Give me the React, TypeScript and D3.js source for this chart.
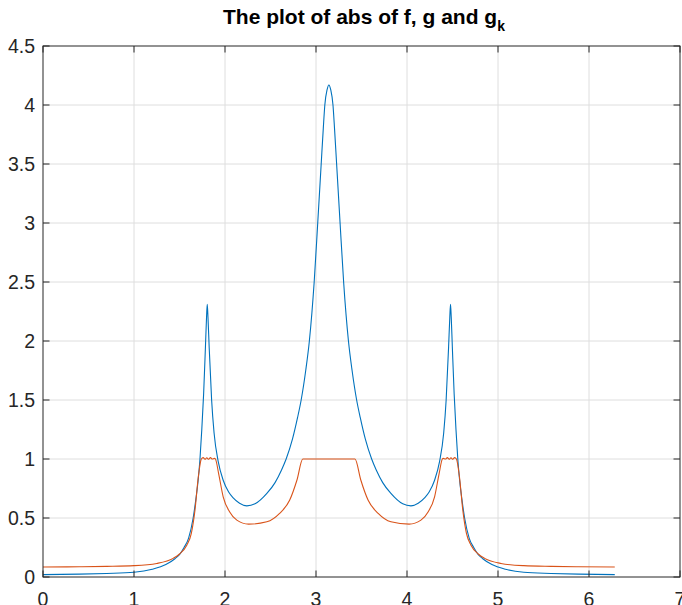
import React, { useEffect, useRef } from 'react';
import * as d3 from 'd3';

// |f| (blue)
const fX = [0, 0.4, 0.7, 1.0, 1.2, 1.35, 1.45, 1.5, 1.55, 1.6, 1.65, 1.68, 1.705, 1.725, 1.745, 1.765, 1.785, 1.797, 1.805, 1.813, 1.826, 1.853, 1.88, 1.925, 1.98, 2.04, 2.09, 2.16, 2.24, 2.33, 2.46, 2.55, 2.62, 2.672, 2.742, 2.797, 2.837, 2.887, 2.927, 2.98, 3.019, 3.057, 3.08, 3.097, 3.122, 3.1416,
  3.1616, 3.1866, 3.2036, 3.2266, 3.2646, 3.3036, 3.3566, 3.3966, 3.4466, 3.4866, 3.5416, 3.6116, 3.6632, 3.7332, 3.8232, 3.9532, 4.0432, 4.1232, 4.1932, 4.2432, 4.3032, 4.3582, 4.4032, 4.4302, 4.4572, 4.4702, 4.4782, 4.4862, 4.4982, 4.5182, 4.5382, 4.5582, 4.5782, 4.6032, 4.6332, 4.6832, 4.7332, 4.7832, 4.8332, 4.9332, 5.0832, 5.2832, 5.5832, 5.8832, 6.2832];
const fY = [0.02, 0.024, 0.03, 0.04, 0.065, 0.105, 0.155, 0.19, 0.25, 0.33, 0.5, 0.66, 0.82, 1.0, 1.25, 1.55, 1.95, 2.2, 2.31, 2.2, 1.95, 1.5, 1.22, 0.98, 0.82, 0.72, 0.67, 0.625, 0.603, 0.62, 0.708, 0.8, 0.905, 1.0, 1.17, 1.35, 1.5, 1.75, 2.0, 2.5, 3.0, 3.5, 3.8, 4.0, 4.13, 4.17,
  4.13, 4.0, 3.8, 3.5, 3.0, 2.5, 2.0, 1.75, 1.5, 1.35, 1.17, 1.0, 0.905, 0.8, 0.708, 0.62, 0.603, 0.625, 0.67, 0.72, 0.82, 0.98, 1.22, 1.5, 1.95, 2.2, 2.31, 2.2, 1.95, 1.55, 1.25, 1.0, 0.82, 0.66, 0.5, 0.33, 0.25, 0.19, 0.155, 0.105, 0.065, 0.04, 0.03, 0.024, 0.02];

// |g_k| (orange)
const gX = [0, 0.4, 0.7, 1.0, 1.25, 1.43, 1.5, 1.58, 1.63, 1.67, 1.707, 1.74, 1.76, 1.78, 1.8, 1.82, 1.84, 1.86, 1.885, 1.895, 1.93, 1.98, 2.05, 2.13, 2.26, 2.46, 2.6, 2.71, 2.79, 2.855,
  3.4282, 3.4932, 3.5732, 3.6832, 3.8232, 4.0232, 4.1532, 4.2332, 4.3032, 4.3532, 4.3882, 4.3982, 4.4232, 4.4432, 4.4632, 4.4832, 4.5032, 4.5232, 4.5432, 4.5762, 4.6132, 4.6532, 4.7032, 4.7832, 4.8532, 5.0332, 5.2832, 5.5832, 5.8832, 6.2832];
const gY = [0.085, 0.087, 0.09, 0.096, 0.115, 0.158, 0.195, 0.27, 0.37, 0.567, 0.85, 1.0, 1.012, 0.998, 1.01, 0.998, 1.012, 1.0, 1.005, 1.0, 0.877, 0.68, 0.553, 0.482, 0.448, 0.468, 0.539, 0.65, 0.82, 1.0,
  1.0, 0.82, 0.65, 0.539, 0.468, 0.448, 0.482, 0.553, 0.68, 0.877, 1.0, 1.005, 1.0, 1.012, 0.998, 1.01, 0.998, 1.012, 1.0, 0.85, 0.567, 0.37, 0.27, 0.195, 0.158, 0.115, 0.096, 0.09, 0.087, 0.085];

const xTicks = [0, 1, 2, 3, 4, 5, 6, 7];
const yTicks = [0, 0.5, 1, 1.5, 2, 2.5, 3, 3.5, 4, 4.5];

const W = 682, H = 605;
const left = 43, right = 680, top = 46, bottom = 577;

export default function App() {
  const ref = useRef<SVGSVGElement>(null);

  useEffect(() => {
    const svg = d3.select(ref.current);
    svg.selectAll('*').remove();

    const x = d3.scaleLinear().domain([0, 7]).range([left, right]);
    const y = d3.scaleLinear().domain([0, 4.5]).range([bottom, top]);
    const font = 'Liberation Sans, Arial, Helvetica, sans-serif';
    const ink = '#262626';

    // grid
    const grid = svg.append('g').attr('stroke', '#dedede').attr('stroke-width', 1);
    xTicks.slice(1, -1).forEach(t => {
      grid.append('line').attr('x1', x(t)).attr('x2', x(t)).attr('y1', top).attr('y2', bottom);
    });
    yTicks.slice(1, -1).forEach(t => {
      grid.append('line').attr('x1', left).attr('x2', right).attr('y1', y(t)).attr('y2', y(t));
    });

    // curves
    const line = d3.line<[number, number]>()
      .x(d => x(d[0]))
      .y(d => y(d[1]))
      .curve(d3.curveMonotoneX);

    svg.append('path')
      .attr('d', line(fX.map((v, i) => [v, fY[i]]))!)
      .attr('fill', 'none').attr('stroke', '#0072BD').attr('stroke-width', 1.1);
    svg.append('path')
      .attr('d', line(gX.map((v, i) => [v, gY[i]]))!)
      .attr('fill', 'none').attr('stroke', '#D95319').attr('stroke-width', 1.1);

    // box + ticks
    const tl = 6.5;
    const box = svg.append('g').attr('stroke', ink).attr('stroke-width', 1).attr('fill', 'none');
    box.append('rect').attr('x', left).attr('y', top).attr('width', right - left).attr('height', bottom - top);
    xTicks.forEach(t => {
      box.append('line').attr('x1', x(t)).attr('x2', x(t)).attr('y1', bottom).attr('y2', bottom - tl);
      box.append('line').attr('x1', x(t)).attr('x2', x(t)).attr('y1', top).attr('y2', top + tl);
    });
    yTicks.forEach(t => {
      box.append('line').attr('x1', left).attr('x2', left + tl).attr('y1', y(t)).attr('y2', y(t));
      box.append('line').attr('x1', right).attr('x2', right - tl).attr('y1', y(t)).attr('y2', y(t));
    });

    // tick labels
    svg.append('g').selectAll('text').data(xTicks).join('text')
      .attr('x', d => x(d)).attr('y', bottom + 15)
      .attr('dy', '0.72em')
      .attr('text-anchor', 'middle')
      .attr('font-family', font).attr('font-size', 19.5).attr('fill', ink)
      .text(d => String(d));
    svg.append('g').selectAll('text').data(yTicks).join('text')
      .attr('x', left - 8).attr('y', d => y(d))
      .attr('dy', '0.36em')
      .attr('text-anchor', 'end')
      .attr('font-family', font).attr('font-size', 19.5).attr('fill', ink)
      .text(d => String(d));

    // title
    const title = svg.append('text')
      .attr('x', 364).attr('y', 24)
      .attr('text-anchor', 'middle')
      .attr('font-family', font).attr('font-size', 21).attr('font-weight', 'bold').attr('fill', '#000');
    title.append('tspan').text('The plot of abs of f, g and g');
    title.append('tspan').attr('dy', 7).attr('font-size', 14).text('k');
  }, []);

  return (
    <svg ref={ref} width={W} height={H}
      style={{ position: 'absolute', left: 0, top: 0, background: '#fff' }} />
  );
}
